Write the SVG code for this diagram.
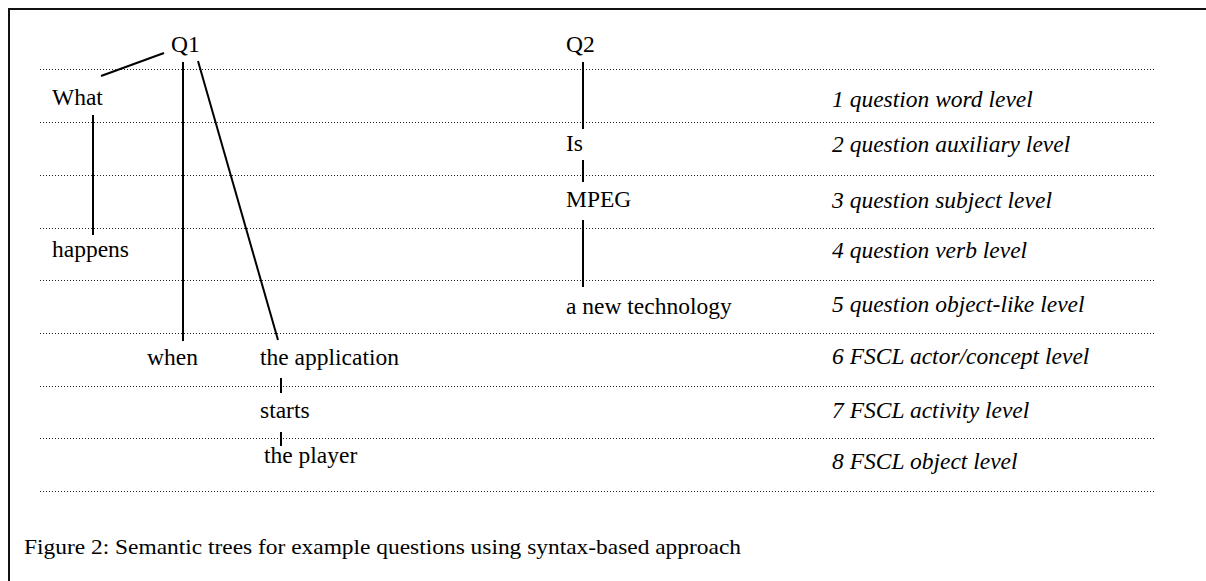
<svg xmlns="http://www.w3.org/2000/svg" width="1206" height="581" viewBox="0 0 1206 581">
<style>
text{font-family:"Liberation Serif","Times New Roman",serif;font-size:23.5px;fill:#000}
.lvl{font-style:italic}
.dot{stroke:#222;stroke-width:1;stroke-dasharray:1 2;fill:none}
.edge{stroke:#000;stroke-width:2;fill:none}
.frame{stroke:#111;stroke-width:2;fill:none}
</style>
<rect width="1206" height="581" fill="#fff"/>
<path class="frame" d="M9,581 V9 H1206"/>
<g id="levels">
<line class="dot" x1="40" y1="69.5" x2="1155" y2="69.5"/>
<line class="dot" x1="40" y1="122.5" x2="1155" y2="122.5"/>
<line class="dot" x1="40" y1="175.5" x2="1155" y2="175.5"/>
<line class="dot" x1="40" y1="228.5" x2="1155" y2="228.5"/>
<line class="dot" x1="40" y1="280.5" x2="1155" y2="280.5"/>
<line class="dot" x1="40" y1="333.5" x2="1155" y2="333.5"/>
<line class="dot" x1="40" y1="386.5" x2="1155" y2="386.5"/>
<line class="dot" x1="40" y1="438.5" x2="1155" y2="438.5"/>
<line class="dot" x1="40" y1="491.5" x2="1155" y2="491.5"/>
<text class="lvl" x="832" y="107">1 question word level</text>
<text class="lvl" x="832" y="152">2 question auxiliary level</text>
<text class="lvl" x="832" y="208">3 question subject level</text>
<text class="lvl" x="832" y="258">4 question verb level</text>
<text class="lvl" x="832" y="312">5 question object-like level</text>
<text class="lvl" x="832" y="364">6 FSCL actor/concept level</text>
<text class="lvl" x="832" y="418">7 FSCL activity level</text>
<text class="lvl" x="832" y="469">8 FSCL object level</text>
</g>
<g id="connectors">
<line class="edge" x1="164" y1="53" x2="101" y2="76"/>
<line class="edge" x1="183" y1="62" x2="183" y2="341"/>
<line class="edge" x1="198" y1="61" x2="278" y2="340"/>
<line class="edge" x1="93" y1="115" x2="93" y2="235"/>
<line class="edge" x1="583" y1="62" x2="583" y2="129"/>
<line class="edge" x1="583" y1="160" x2="583" y2="182"/>
<line class="edge" x1="583" y1="220" x2="583" y2="287"/>
<line class="edge" x1="281" y1="378" x2="281" y2="393"/>
<line class="edge" x1="281" y1="432" x2="281" y2="446"/>
</g>
<g id="q1"><text x="171" y="52">Q1</text></g>
<g id="what"><text x="52" y="105">What</text></g>
<g id="happens"><text x="52" y="257">happens</text></g>
<g id="when"><text x="147" y="365">when</text></g>
<g id="the-application"><text x="260" y="365">the application</text></g>
<g id="starts"><text x="260" y="418">starts</text></g>
<g id="the-player"><text x="264" y="463">the player</text></g>
<g id="q2"><text x="566" y="52">Q2</text></g>
<g id="is"><text x="566" y="151">Is</text></g>
<g id="mpeg"><text x="566" y="207">MPEG</text></g>
<g id="a-new-technology"><text x="566" y="314">a new technology</text></g>
<text x="24" y="554" textLength="717" lengthAdjust="spacingAndGlyphs" style="font-size:21px">Figure 2:  Semantic trees for example questions using syntax-based approach</text>
</svg>
